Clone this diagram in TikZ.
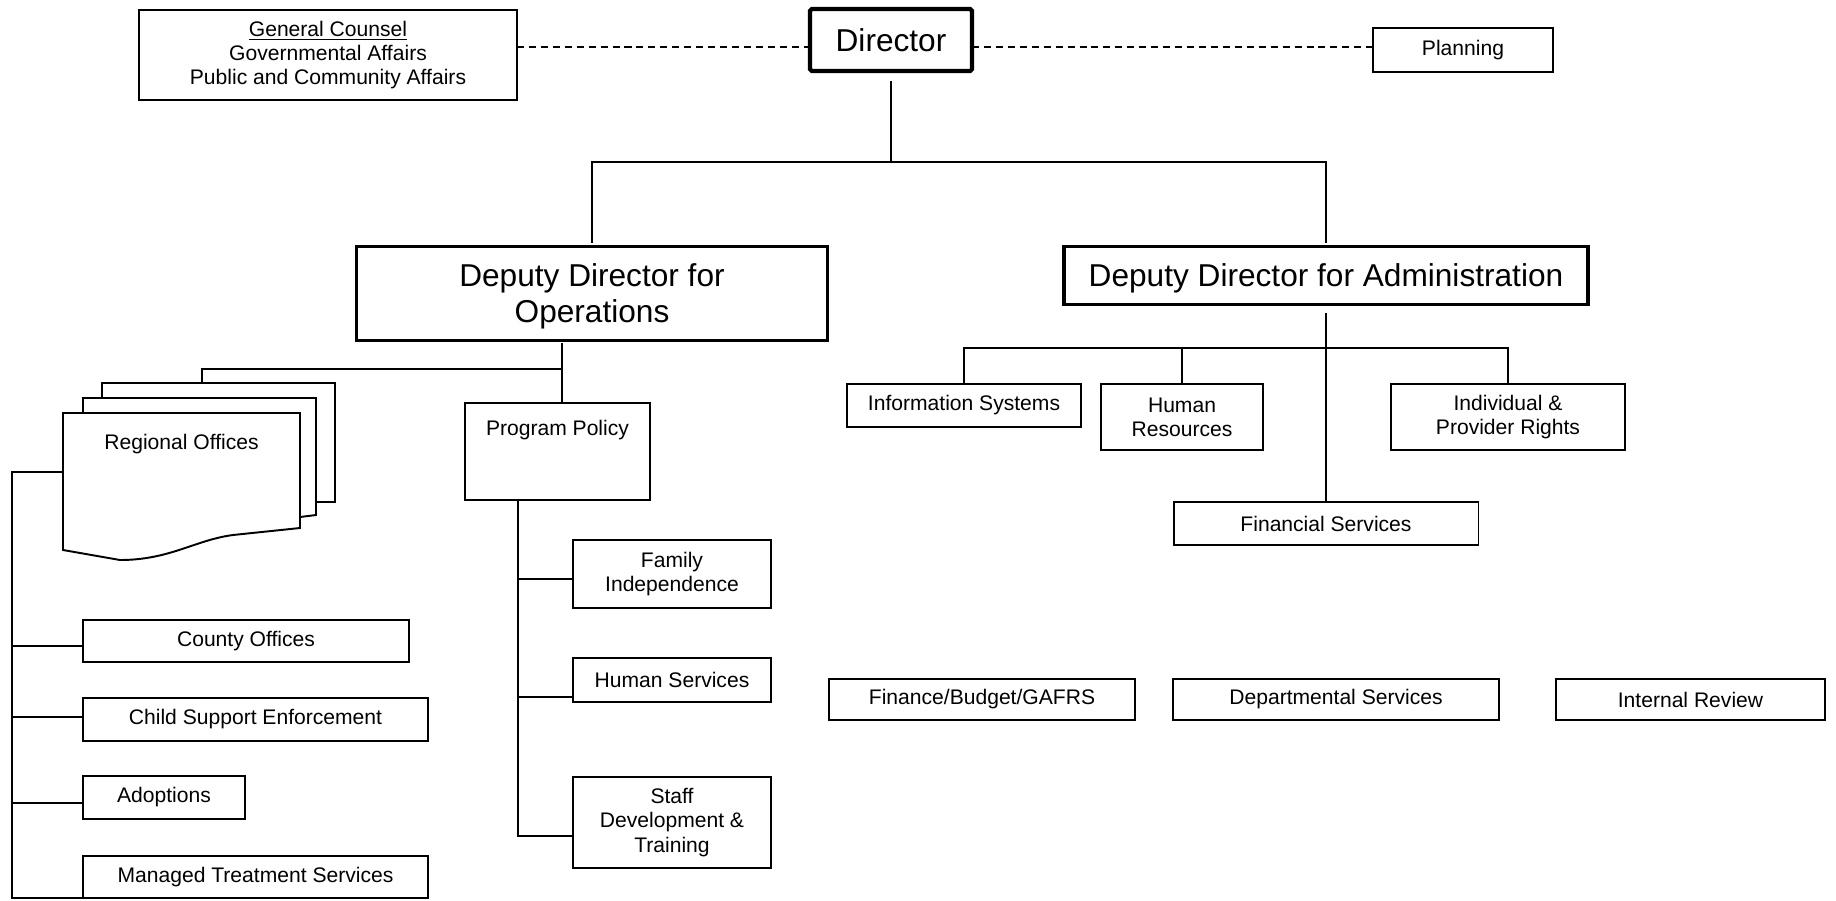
\documentclass[tikz,border=0pt]{standalone}
\usepackage{fontspec}
\setmainfont{Liberation Sans}

\begin{document}
\begin{tikzpicture}[x=0.02cm,y=-0.02cm,
	box/.style={draw,line width=1.1pt,outer sep=0pt,inner sep=0pt,align=center,font=\fontsize{12}{13.7}\selectfont},
	bigbox/.style={box,line width=1.9pt,text depth=0pt,font=\fontsize{18}{20.5}\selectfont},
	link/.style={line width=1.1pt},
	dashlink/.style={line width=1.1pt,dash pattern=on 4pt off 2.8pt}]
	\useasboundingbox (0,0) rectangle (1836,900);
	\node[bigbox,line width=2.4pt,rounded corners=1pt,minimum width=3.24cm,minimum height=1.24cm] (dir) at (891,40) {Director};
	\node[box,minimum width=7.56cm,minimum height=1.8cm] (gc) at (328,55) {\underline{General Counsel}\\Governmental Affairs\\Public and Community Affairs};
	\node[box,minimum width=3.6cm,minimum height=0.88cm] (pl) at (1463,50) {Planning};
	\node[bigbox,minimum width=9.42cm,minimum height=1.88cm] (ddo) at (592,293.5) {Deputy Director for\\Operations};
	\node[bigbox,minimum width=10.48cm,minimum height=1.16cm] (dda) at (1326,275.5) {Deputy Director for Administration};
	\node[box,draw=none,minimum width=4.74cm,text height=0.72cm,text depth=1.64cm] (ro) at (181.5,472) {Regional Offices};
	\node[box,minimum width=3.7cm,text height=0.64cm,text depth=1.3cm] (pp) at (557.5,451.5) {Program Policy};
	\node[box,minimum width=3.96cm,minimum height=1.36cm] (fi) at (672,574) {Family\\Independence};
	\node[box,minimum width=3.96cm,minimum height=0.88cm] (hs) at (672,680) {Human Services};
	\node[box,minimum width=3.96cm,minimum height=1.82cm] (sdt) at (672,822.5) {Staff\\Development \&\\Training};
	\node[box,minimum width=6.52cm,minimum height=0.84cm] (co) at (246,641) {County Offices};
	\node[box,minimum width=6.9cm,minimum height=0.86cm] (cse) at (255.5,719.5) {Child Support Enforcement};
	\node[box,minimum width=3.24cm,minimum height=0.86cm] (ad) at (164,797.5) {Adoptions};
	\node[box,minimum width=6.9cm,minimum height=0.84cm] (mts) at (255.5,877) {Managed Treatment Services};
	\node[box,minimum width=4.68cm,minimum height=0.86cm] (is) at (964,405.5) {Information Systems};
	\node[box,minimum width=3.24cm,minimum height=1.32cm] (hr) at (1182,417) {Human\\Resources};
	\node[box,minimum width=4.68cm,minimum height=1.32cm] (ipr) at (1508,417) {Individual \&\\Provider Rights};
	\node[box,minimum width=6.1cm,minimum height=0.86cm] (fs) at (1326,523.5) {Financial Services};
	\node[box,minimum width=6.12cm,minimum height=0.82cm] (fb) at (982,699.5) {Finance/Budget/GAFRS};
	\node[box,minimum width=6.52cm,minimum height=0.82cm] (ds) at (1336,699.5) {Departmental Services};
	\node[box,minimum width=5.38cm,minimum height=0.82cm] (ir) at (1690.5,699.5) {Internal Review};

	\draw[link] (83,413) -- (83,398) -- (316,398) -- (316,515) -- (300,517);
	\draw[link] (102,398) -- (102,383) -- (335,383) -- (335,502) -- (316,502);
	\draw[link] (ro.north west) -- (ro.north east) -- (300,528) -- (233,535)
		.. controls (195,540) and (170,560) .. (120,560) -- (63,550) -- cycle;

	\coordinate (dl) at (0,47);
	\coordinate (bus) at (0,162);
	\coordinate (opbus) at (0,369);
	\coordinate (adbus) at (0,348);
	\coordinate (stk) at (202,383);
	\coordinate (rsp) at (12,0);
	\coordinate (psp) at (518,0);
	\coordinate (ppin) at ([xshift=0.09cm]pp.north);

	\draw[dashlink] (gc.east |- dl) -- (dir.west |- dl);
	\draw[dashlink] (dir.east |- dl) -- (pl.west |- dl);
	\draw[link,shorten <=0.2cm] (dir.south) -- (dir.south |- bus);
	\draw[link] ([yshift=0.08cm]ddo.north) -- (ddo.north |- bus) -- (dda.north |- bus) -- ([yshift=0.08cm]dda.north);

	\draw[link,shorten <=0.06cm] (ppin |- ddo.south) -- (ppin);
	\draw[link] (ppin |- opbus) -- (stk |- opbus) -- (stk);
	\draw[link] (ro.west) -- (rsp |- ro.west) -- (rsp |- mts.south west) -- (mts.south west);
	\foreach \n/\d in {co/-0.1cm,cse/0.05cm,ad/-0.11cm}
		\draw[link] ([yshift=\d]rsp |- \n.west) -- ([yshift=\d]\n.west);
	\draw[link] (psp |- pp.south) -- ([yshift=-0.27cm]psp |- sdt.west) -- ([yshift=-0.27cm]sdt.west);
	\foreach \n/\d in {fi/-0.1cm,hs/-0.34cm}
		\draw[link] ([yshift=\d]psp |- \n.west) -- ([yshift=\d]\n.west);

	\draw[link,shorten <=0.18cm] (dda.south) -- (fs.north);
	\draw[link] (is.north) -- (is.north |- adbus) -- (ipr.north |- adbus) -- (ipr.north);
	\draw[link] (hr.north |- adbus) -- (hr.north);
\end{tikzpicture}
\end{document}
